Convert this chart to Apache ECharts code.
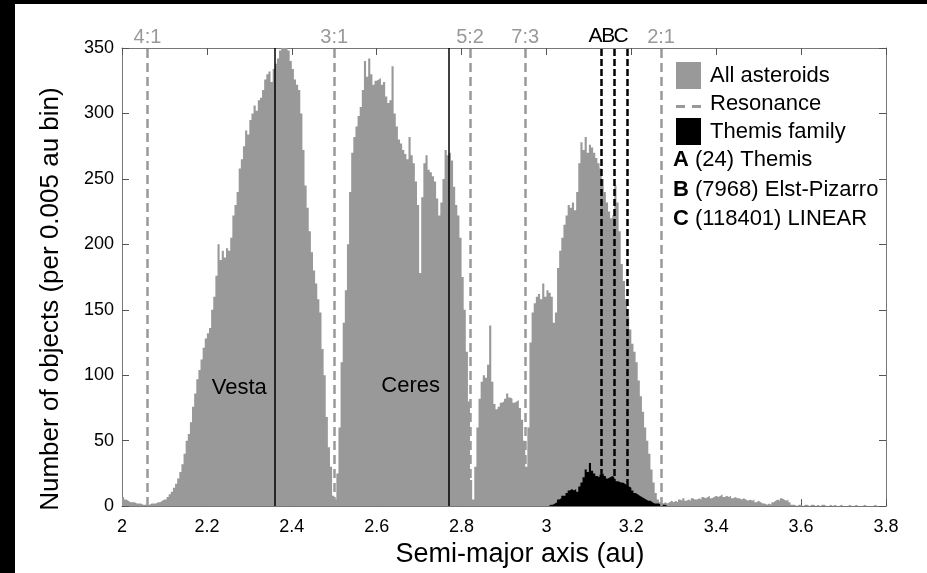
<!DOCTYPE html>
<html><head><meta charset="utf-8">
<script src="https://cdn.jsdelivr.net/npm/echarts@6/dist/echarts.min.js"></script>
<style>html,body{margin:0;padding:0;background:#fff}#c{width:927px;height:573px}</style>
</head><body><div id="c"></div>
<script>
// Histogram: bins of 0.005 au starting at 2.00 au
const binStart = 2.0;
const binWidth = 0.005;
const allCounts = [
  7,5,4,3,3,3,2,2,2,1,1,1,1,2,2,2,3,3,4,5,
  5,7,9,11,14,17,21,26,32,40,50,55,64,76,86,97,104,112,121,128,
  132,136,150,160,176,200,188,195,190,197,195,205,222,230,240,258,265,275,287,284,
  295,300,306,302,310,312,318,326,330,332,324,334,338,342,348,352,350,354,348,340,
  334,326,322,318,300,272,245,228,210,194,180,170,158,148,120,100,68,45,30,8,
  5,25,60,110,140,165,200,240,270,282,290,298,305,318,340,328,342,330,322,325,
  326,327,322,324,313,308,310,336,300,290,280,277,272,269,265,282,268,262,248,230,
  178,236,262,268,257,255,252,248,235,222,232,250,272,268,270,264,244,230,222,205,
  175,150,118,80,20,5,30,60,82,95,100,98,108,138,95,78,74,76,79,80,
  82,86,83,82,79,80,81,75,66,50,30,60,125,148,155,160,162,158,170,160,
  165,163,160,140,148,182,195,205,215,222,230,228,232,226,240,262,278,272,282,270,
  276,274,270,266,262,258,250,240,232,225,220,222,245,232,210,185,172,158,145,135,
  124,118,110,96,84,72,60,50,40,28,18,10,5,3,2,3,2,3,4,3,
  4,3,5,4,6,4,5,4,6,5,5,6,5,7,6,7,8,6,7,8,
  7,8,9,7,8,7,8,6,7,6,6,5,6,5,4,5,4,5,3,4,
  3,2,2,1,2,1,3,4,5,4,6,5,4,5,3,1,1,0,1,1,
  0,1,1,0,1,1,0,1,0,1,1,0,0,1,0,1,0,0,1,0,
  0,0,1,0,0,1,0,0,0,1,0,0,0,0,1,0,0,0,0,0
];
const themisStart = 3.0;
const themisCounts = [
  0,1,1,2,3,5,6,8,8,10,12,13,12,13,11,15,18,22,28,26,
  33,27,25,23,22,24,25,23,21,22,23,22,19,19,18,18,17,16,15,14,
  12,10,9,8,7,6,5,4,4,3,2,2,2,1,1,1,0,0,0,0
];
const resonanceNames = ['4:1','3:1','5:2','7:3','2:1'];
const resonancePos = [2.058, 2.5, 2.82, 2.95, 3.267];
const bodyNames = ['Vesta','Ceres'];
const bodyPos = [2.36, 2.768];
const bodyLabelY = [90, 92];
const markerNames = ['A','B','C'];
const markerPos = [3.133, 3.161, 3.192];
const markerDesc = ['(24) Themis','(7968) Elst-Pizarro','(118401) LINEAR'];
const xTicks = [2,2.2,2.4,2.6,2.8,3,3.2,3.4,3.6,3.8];
const yTicks = [0,50,100,150,200,250,300,350];

const FONT = "'Liberation Sans', Arial, Helvetica, sans-serif";

function stepData(start, counts){
  const d = counts.map((v,i)=>[+(start + i*binWidth).toFixed(4), v]);
  d.push([+(start + counts.length*binWidth).toFixed(4), counts[counts.length-1]]);
  return d;
}

const chart = echarts.init(document.getElementById('c'), null, {renderer:'canvas'});
const axisColor = '#777';
const baseX = {
  type:'value', min:xTicks[0], max:xTicks[xTicks.length-1], interval:0.2,
  axisLine:{show:true, onZero:false, lineStyle:{color:axisColor, width:1}},
  axisTick:{show:true, inside:true, length:7, lineStyle:{color:'#555'}},
  splitLine:{show:false}
};
const baseY = {
  type:'value', min:yTicks[0], max:yTicks[yTicks.length-1], interval:50,
  axisLine:{show:true, onZero:false, lineStyle:{color:axisColor, width:1}},
  axisTick:{show:true, inside:true, length:7, lineStyle:{color:'#555'}},
  splitLine:{show:false}
};

const option = {
  animation:false,
  backgroundColor:'#fff',
  textStyle:{fontFamily:FONT},
  grid:{left:122, right:41, top:48, bottom:66, containLabel:false},
  legend:{
    orient:'vertical', left:676, top:62, itemWidth:25, itemHeight:27, itemGap:1,
    padding:0, selectedMode:false,
    textStyle:{fontSize:22, color:'#000', fontFamily:FONT, padding:[0,0,0,4]},
    data:[
      {name:'All asteroids', icon:'rect'},
      {name:'Resonance', icon:'path://M0,0L25,0L25,0.01ZM0,27L25,27L25,26.99ZM0,15h9v3h-9zM16,15h9v3h-9z'},
      {name:'Themis family', icon:'rect'}
    ]
  },
  xAxis:[
    Object.assign({}, baseX, {
      position:'bottom',
      axisLabel:{color:'#000', fontSize:18, margin:12, fontFamily:FONT},
      name:'Semi-major axis (au)', nameLocation:'middle', nameGap:34,
      nameTextStyle:{fontSize:27, color:'#000', fontFamily:FONT, padding:[0,0,0,32]}
    }),
    Object.assign({}, baseX, {position:'top', axisLabel:{show:false}})
  ],
  yAxis:[
    Object.assign({}, baseY, {
      position:'left',
      axisLabel:{color:'#000', fontSize:18, margin:8, fontFamily:FONT},
      name:'Number of objects (per 0.005 au bin)', nameLocation:'middle', nameGap:58,
      nameTextStyle:{fontSize:26, color:'#000', fontFamily:FONT, padding:[0,44,0,0]}
    }),
    Object.assign({}, baseY, {position:'right', axisLabel:{show:false}})
  ],
  series:[
    {
      name:'All asteroids', type:'line', step:'end', data:stepData(binStart, allCounts),
      symbol:'none', showSymbol:false, lineStyle:{width:0}, itemStyle:{color:'#999'},
      areaStyle:{color:'#999', opacity:1}, z:1,
      markLine:{silent:true, symbol:['none','none'], animation:false,
        lineStyle:{color:'#000', type:'solid', width:1.5}, label:{show:false},
        data:bodyPos.map(p=>({xAxis:p}))},
      markPoint:{silent:true, symbol:'circle', symbolSize:0, animation:false,
        label:{show:true, position:'left', distance:8, color:'#000', fontSize:22, fontFamily:FONT, formatter:'{b}'},
        data:bodyNames.map((n,i)=>({name:n, coord:[bodyPos[i], bodyLabelY[i]]}))}
    },
    {
      name:'Themis family', type:'line', step:'end', data:stepData(themisStart, themisCounts),
      symbol:'none', showSymbol:false, lineStyle:{width:0}, itemStyle:{color:'#000'},
      areaStyle:{color:'#000', opacity:1}, z:2
    },
    {
      name:'Resonance', type:'line', data:[], symbol:'none', lineStyle:{width:0},
      itemStyle:{color:'#999'}, z:3,
      markLine:{silent:true, symbol:['none','none'], animation:false,
        lineStyle:{color:'#999', type:[9,5], width:2.5},
        label:{show:true, position:'end', formatter:'{b}', color:'#999', fontSize:20, fontFamily:FONT, distance:1},
        data:resonanceNames.map((n,i)=>({name:n, xAxis:resonancePos[i]}))}
    },
    {
      name:'Markers', type:'line', data:[], symbol:'none', lineStyle:{width:0}, z:4,
      markLine:{silent:true, symbol:['none','none'], animation:false,
        lineStyle:{color:'#000', type:[7,3], width:2.5},
        label:{show:true, position:'end', formatter:'{b}', color:'#000', fontSize:21, fontFamily:FONT, distance:1, offset:[-6,0]},
        data:markerNames.map((n,i)=>({name:n, xAxis:markerPos[i]}))}
    }
  ],
  graphic:[
    {type:'rect', shape:{x:0,y:0,width:927,height:4}, style:{fill:'#000'}, z:100, silent:true},
    {type:'rect', shape:{x:0,y:0,width:15,height:573}, style:{fill:'#000'}, z:100, silent:true}
  ].concat(markerNames.map((n,i)=>({
    type:'text', x:673, y:160 + i*29.5, z:50, silent:true,
    style:{text:'{b|'+n+'} '+markerDesc[i], fill:'#000', fontSize:22, fontFamily:FONT, verticalAlign:'middle',
      rich:{b:{fontWeight:'bold', fontSize:22, fontFamily:FONT, fill:'#000'}}}
  })))
};
chart.setOption(option);
</script></body></html>
